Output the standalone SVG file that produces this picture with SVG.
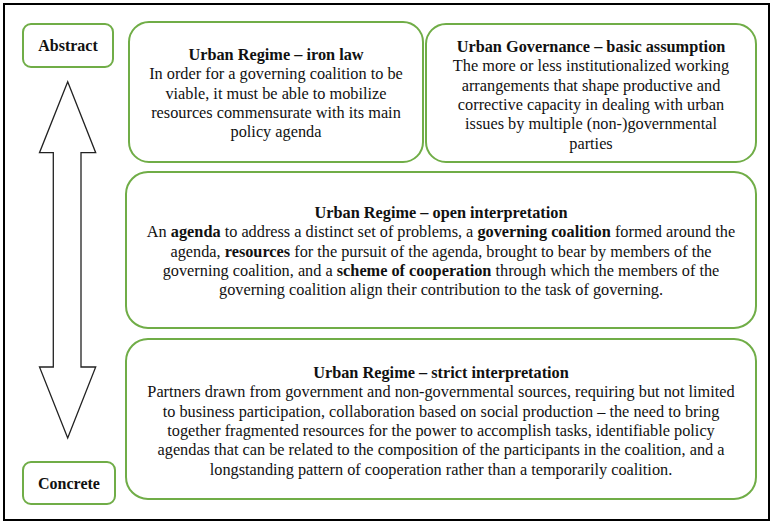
<svg xmlns="http://www.w3.org/2000/svg" width="770" height="522" viewBox="0 0 770 522">
<style>
.box{fill:#fff;stroke:#70AD47;stroke-width:2}
.t{font-family:"Liberation Serif","Times New Roman",serif;font-size:16.3px;fill:#111;text-anchor:middle}
.b{font-weight:bold}
.lbl{font-family:"Liberation Serif","Times New Roman",serif;font-size:16px;font-weight:bold;fill:#111;text-anchor:middle}
</style>
<rect x="0" y="0" width="770" height="522" fill="#fff"/>
<rect x="4" y="4" width="765" height="516" fill="none" stroke="#000" stroke-width="2"/>
<g id="connectors">
<path d="M67.7,81.7 L95.7,152.7 L81,152.7 L81,367 L95.7,367 L67.7,438 L39.5,367 L53.3,367 L53.3,152.7 L39.5,152.7 Z" fill="#fff" stroke="#222" stroke-width="1.3" stroke-linejoin="miter"/>
</g>
<g id="abstract">
<rect class="box" x="23" y="24" width="90" height="43" rx="8"/>
<text class="lbl" x="68" y="51">Abstract</text>
</g>
<g id="concrete">
<rect class="box" x="23" y="462" width="92" height="42" rx="8"/>
<text class="lbl" x="69" y="489">Concrete</text>
</g>
<g id="iron-law">
<rect class="box" x="129" y="22" width="294" height="140" rx="20"/>
<text class="t" x="276" y="60"><tspan class="b">Urban Regime – iron law</tspan><tspan x="276" dy="19.3">In order for a governing coalition to be</tspan><tspan x="276" dy="19.3">viable, it must be able to mobilize</tspan><tspan x="276" dy="19.3">resources commensurate with its main</tspan><tspan x="276" dy="19.3">policy agenda</tspan></text>
</g>
<g id="governance">
<rect class="box" x="426" y="24" width="330" height="138" rx="20"/>
<text class="t" x="591" y="52"><tspan class="b">Urban Governance – basic assumption</tspan><tspan x="591" dy="19.3">The more or less institutionalized working</tspan><tspan x="591" dy="19.3">arrangements that shape productive and</tspan><tspan x="591" dy="19.3">corrective capacity in dealing with urban</tspan><tspan x="591" dy="19.3">issues by multiple (non-)governmental</tspan><tspan x="591" dy="19.3">parties</tspan></text>
</g>
<g id="open">
<rect class="box" x="126" y="172" width="630" height="156" rx="22"/>
<text class="t" x="441" y="218"><tspan class="b">Urban Regime – open interpretation</tspan><tspan x="441" dy="19.3">An <tspan class="b">agenda</tspan> to address a distinct set of problems, a <tspan class="b">governing coalition</tspan> formed around the</tspan><tspan x="441" dy="19.3">agenda, <tspan class="b">resources</tspan> for the pursuit of the agenda, brought to bear by members of the</tspan><tspan x="441" dy="19.3">governing coalition, and a <tspan class="b">scheme of cooperation</tspan> through which the members of the</tspan><tspan x="441" dy="19.3">governing coalition align their contribution to the task of governing.</tspan></text>
</g>
<g id="strict">
<rect class="box" x="126" y="339" width="630" height="160" rx="22"/>
<text class="t" x="441" y="378"><tspan class="b">Urban Regime – strict interpretation</tspan><tspan x="441" dy="19.3">Partners drawn from government and non-governmental sources, requiring but not limited</tspan><tspan x="441" dy="19.3">to business participation, collaboration based on social production – the need to bring</tspan><tspan x="441" dy="19.3">together fragmented resources for the power to accomplish tasks, identifiable policy</tspan><tspan x="441" dy="19.3">agendas that can be related to the composition of the participants in the coalition, and a</tspan><tspan x="441" dy="19.3">longstanding pattern of cooperation rather than a temporarily coalition.</tspan></text>
</g>
</svg>
